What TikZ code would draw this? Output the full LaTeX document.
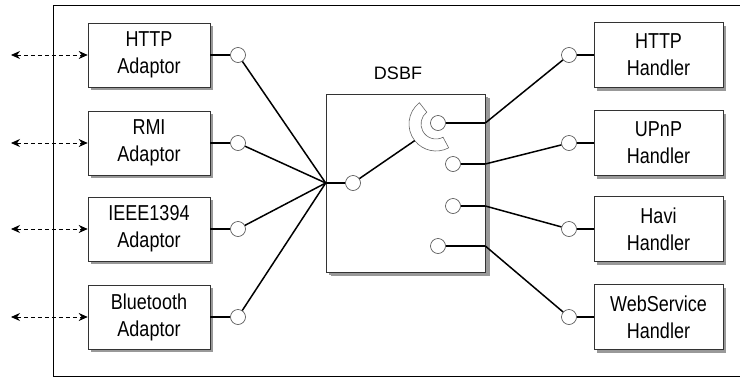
\documentclass[tikz,border=0pt]{standalone}
\usepackage{fontspec}
\setmainfont{Liberation Sans}
\usetikzlibrary{calc,positioning,arrows.meta,shadows}
\newcommand\tallt[1]{\scalebox{1}[1.2]{#1}}

\begin{document}
\begin{tikzpicture}[x=1pt,y=-1pt,
  box/.style={draw=black!80,line width=0.6pt,fill=white,minimum width=122pt,minimum height=64pt,
    inner sep=0pt,align=center,font=\fontsize{18}{27}\selectfont,
    drop shadow={shadow xshift=3pt,shadow yshift=-3pt,fill=black!40,opacity=1}},
  port/.style={circle,draw=black!70,line width=0.6pt,fill=white,minimum size=15pt,inner sep=0pt},
  wire/.style={line width=1.5pt},
  ext/.style={dash pattern=on 4pt off 3pt,line width=0.8pt,{Stealth[length=9pt,width=8pt]}-{Stealth[length=9pt,width=8pt]}}]
\useasboundingbox (0,0) rectangle (740,378);
% outer frame (open to the right)
\draw[line width=0.7pt] (740,5) -- (53,5) -- (53,376) -- (740,376);
% DSBF core
\node[box,minimum width=159pt,minimum height=178pt,
  drop shadow={shadow xshift=5pt,shadow yshift=-4pt,fill=black!40,opacity=1}] (dsbf) at (405.5,183) {};
\node[font=\fontsize{18}{24}\selectfont] (dsbflbl) at (398,73) {DSBF};
\coordinate (sock) at (436,124);
\draw[draw=black!60,line width=0.6pt,fill=white] ($(sock)+(128:27pt)$) arc[start angle=128,end angle=298,radius=27pt]
  -- ($(sock)+(298:15pt)$) arc[start angle=298,end angle=128,radius=15pt] -- cycle;
\coordinate (plug) at ($(sock)+(218:27pt)$);
\node[port] (hub) at (353,183) {};
\draw[wire] (dsbf.west) -- (hub);
\draw[wire] (hub) -- (plug);
% adaptors
\foreach \n/\y/\t in {1/55/HTTP,2/143/RMI,3/229/IEEE1394,4/317/Bluetooth}{
  \node[box] (ad\n) at (149,\y) {\tallt{\t}\\\tallt{Adaptor}};
  \node[port] (ap\n) at (238,\y) {};
  \coordinate (out\n) at (11,\y);
  \draw[ext] (out\n) -- (ad\n.west);
  \draw[wire] (ad\n.east) -- (ap\n);
  \draw[wire] (ap\n) -- (dsbf.west);
}
% handlers
\foreach \n/\y/\t/\px/\py in {1/55/HTTP/438/123,2/143/UPnP/453/164,3/229/Havi/453/206,4/317/WebService/438/246}{
  \node[box,minimum width=129pt,minimum height=65pt] (hd\n) at (658.5,\y) {\tallt{\t}\\\tallt{Handler}};
  \node[port] (hp\n) at (569,\y) {};
  \node[port] (ip\n) at (\px,\py) {};
  \coordinate (edge\n) at (dsbf.east |- ip\n);
  \draw[wire] (ip\n) -- (edge\n);
  \draw[wire] (edge\n) -- (hp\n);
  \draw[wire] (hp\n) -- (hd\n.west);
}
\end{tikzpicture}
\end{document}
